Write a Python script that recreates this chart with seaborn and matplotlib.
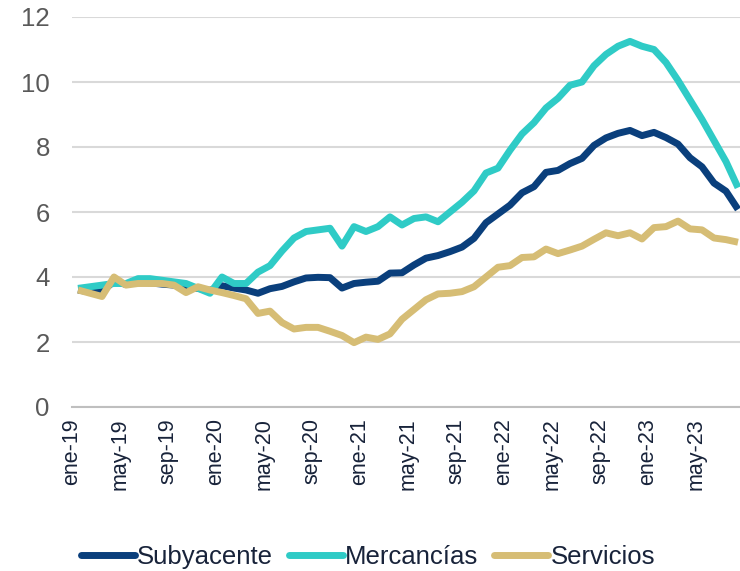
import matplotlib
matplotlib.use("Agg")
import matplotlib.pyplot as plt
from matplotlib.lines import Line2D
import seaborn as sns
import pandas as pd

# ---------------- data (monthly, ene-19 .. ago-23) ----------------
subyacente = [
    3.60, 3.54, 3.55, 3.87, 3.77, 3.85, 3.82, 3.78, 3.75, 3.68, 3.65, 3.59,
    3.73, 3.66, 3.60, 3.50, 3.64, 3.71, 3.85, 3.97, 3.99, 3.98, 3.66, 3.80,
    3.84, 3.87, 4.12, 4.13, 4.37, 4.58, 4.66, 4.78, 4.92, 5.19, 5.67, 5.94,
    6.21, 6.59, 6.78, 7.22, 7.28, 7.49, 7.65, 8.05, 8.28, 8.42, 8.51, 8.35,
    8.45, 8.29, 8.09, 7.67, 7.39, 6.89, 6.64, 6.08,
]
mercancias = [
    3.65, 3.70, 3.75, 3.80, 3.80, 3.95, 3.95, 3.90, 3.85, 3.80, 3.65, 3.50,
    4.00, 3.80, 3.80, 4.15, 4.35, 4.80, 5.20, 5.40, 5.45, 5.50, 4.95, 5.55,
    5.40, 5.55, 5.85, 5.60, 5.80, 5.85, 5.70, 6.00, 6.30, 6.65, 7.20, 7.35,
    7.90, 8.40, 8.75, 9.20, 9.50, 9.90, 10.00, 10.50, 10.85, 11.10, 11.25, 11.10,
    11.00, 10.60, 10.05, 9.45, 8.85, 8.20, 7.55, 6.75,
]
servicios = [
    3.60, 3.50, 3.40, 4.00, 3.75, 3.80, 3.80, 3.80, 3.75, 3.52, 3.70, 3.60,
    3.52, 3.43, 3.33, 2.88, 2.95, 2.60, 2.40, 2.45, 2.45, 2.33, 2.20, 1.98,
    2.15, 2.08, 2.25, 2.70, 3.00, 3.30, 3.48, 3.50, 3.55, 3.70, 4.00, 4.30,
    4.35, 4.60, 4.62, 4.86, 4.72, 4.83, 4.95, 5.16, 5.36, 5.27, 5.36, 5.17,
    5.52, 5.55, 5.72, 5.48, 5.45, 5.20, 5.15, 5.07,
]
series_names = ["Subyacente", "Mercancías", "Servicios"]
colors = ["#0A3F7C", "#2FCBC6", "#D6BD75"]
tick_labels = ["ene-19", "may-19", "sep-19", "ene-20", "may-20", "sep-20",
               "ene-21", "may-21", "sep-21", "ene-22", "may-22", "sep-22",
               "ene-23", "may-23"]
y_ticks = [0, 2, 4, 6, 8, 10, 12]

# ---------------- build long-form table ----------------
n = len(subyacente)
frames = []
for name, vals in zip(series_names, [subyacente, mercancias, servicios]):
    frames.append(pd.DataFrame({"mes": range(n), "valor": vals, "serie": name}))
df = pd.concat(frames, ignore_index=True)

sns.set_theme(style="white")
plt.rcParams["font.family"] = ["Liberation Sans", "DejaVu Sans"]

fig = plt.figure(figsize=(7.4, 5.71), dpi=100)
ax = fig.add_axes([72 / 740, 164 / 571, 672 / 740, 390 / 571])

sns.lineplot(data=df, x="mes", y="valor", hue="serie", hue_order=series_names,
             palette=colors, linewidth=5.0, ax=ax, legend=False,
             estimator=None, sort=False)
for ln in ax.get_lines():
    ln.set_solid_joinstyle("round")
    ln.set_solid_capstyle("butt")

ax.set_xlim(-0.5, n - 0.5)
ax.set_ylim(0, 12)
ax.set_xlabel("")
ax.set_ylabel("")

# y axis
ax.set_yticks(y_ticks)
ax.set_yticklabels([str(v) for v in y_ticks])
ax.tick_params(axis="y", length=0, pad=16, labelsize=18.5, labelcolor="#595959")
ax.yaxis.grid(True, color="#D9D9D9", linewidth=1.5)
ax.xaxis.grid(False)

# x axis
ax.set_xticks([i * 4 - 0.5 for i in range(len(tick_labels))])
ax.set_xticklabels(tick_labels, rotation=90, va="top", ha="center")
ax.tick_params(axis="x", length=5, width=1.5, color="#BFBFBF", direction="out",
               pad=3, labelsize=15.5, labelcolor="#18233A")

for side in ["top", "right", "left"]:
    ax.spines[side].set_visible(False)
ax.spines["bottom"].set_color("#BFBFBF")
ax.spines["bottom"].set_linewidth(1.5)

# legend
handles = [Line2D([0], [0], color=c, linewidth=5.0, solid_capstyle="round")
           for c in colors]
fig.legend(handles, series_names, loc="center", bbox_to_anchor=(0.497, 0.024),
           ncol=3, frameon=False, fontsize=18.5, handlelength=2.1,
           handletextpad=0.1, columnspacing=0.6, labelcolor="#18233A",
           borderaxespad=0, borderpad=0)

fig.savefig("out.png", dpi=100)
